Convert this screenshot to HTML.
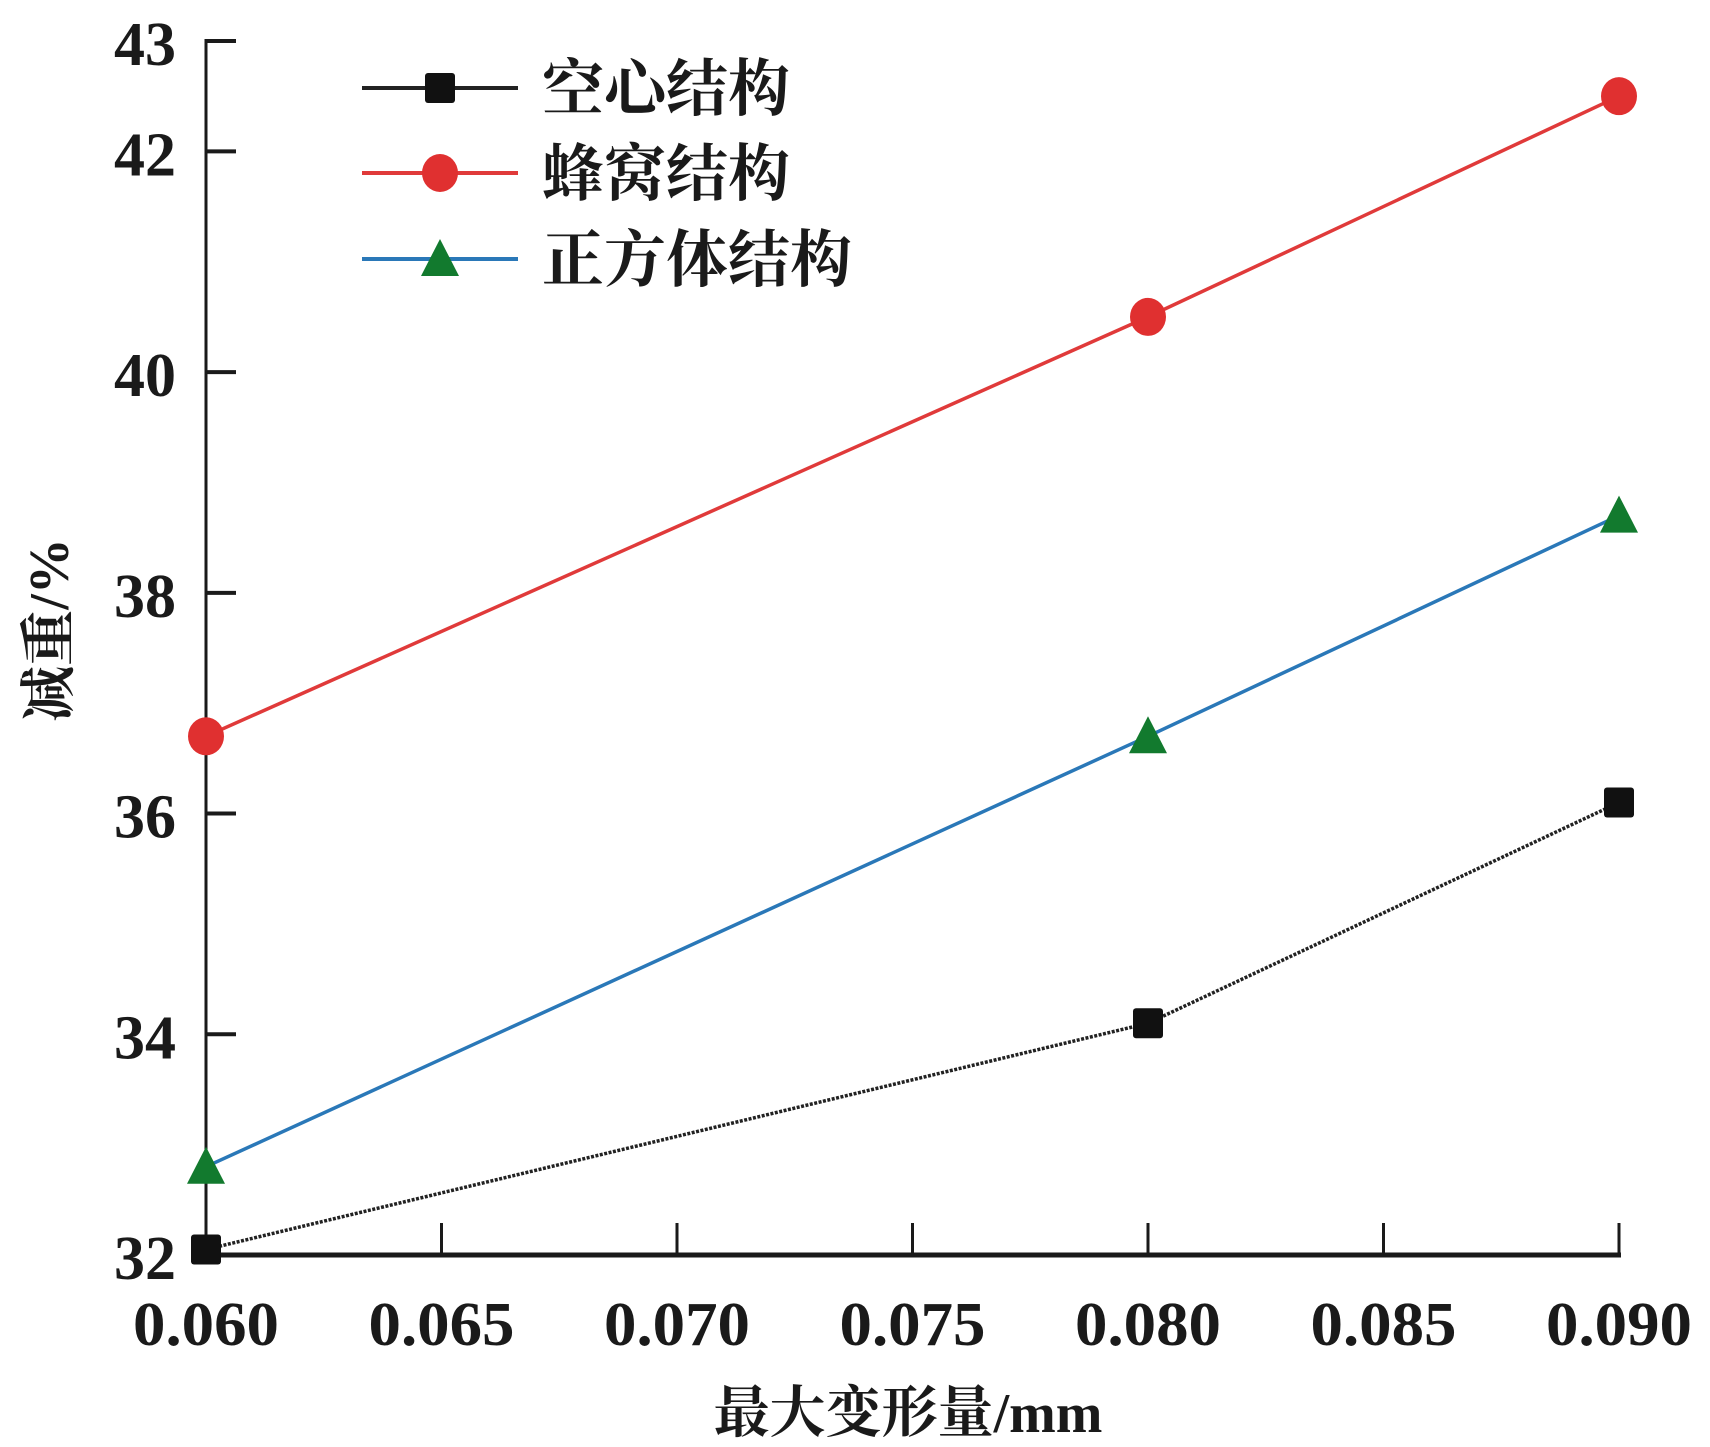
<!DOCTYPE html>
<html><head><meta charset="utf-8"><style>
html,body{margin:0;padding:0;background:#fff;}
svg{display:block;}
text{font-family:"Liberation Serif","Noto Serif CJK SC",serif;fill:#1a1a1a;}
</style></head><body>
<svg id="chart" width="1710" height="1447"></svg>
<script>
const xValues = [0.060, 0.080, 0.090];
const hollowValues = [32.05, 34.1, 36.1];
const honeycombValues = [36.7, 40.5, 42.5];
const cubeValues = [32.8, 36.7, 38.7];
const xTicks = [0.060, 0.065, 0.070, 0.075, 0.080, 0.085, 0.090];
const xTickLabels = ["0.060","0.065","0.070","0.075","0.080","0.085","0.090"];
const yTicks = [32, 34, 36, 38, 40, 42, 43];
const seriesNames = ["空心结构","蜂窝结构","正方体结构"];

const NS = "http://www.w3.org/2000/svg";
const svg = document.getElementById('chart');
const X0 = 206, X1 = 1619, Y0 = 1255, Y1 = 41;
const xs = v => X0 + (v - 0.060) / 0.030 * (X1 - X0);
const ys = v => Y0 - (v - 32) / 11 * (Y0 - Y1);
function mk(tag, attrs, parent) {
  const e = document.createElementNS(NS, tag);
  for (const k in attrs) e.setAttribute(k, attrs[k]);
  (parent || svg).appendChild(e);
  return e;
}
let ax = mk('line', {x1: X0, y1: Y1 - 2, x2: X0, y2: Y0, stroke: '#1a1a1a', 'stroke-width': 3});


ax = mk('line', {x1: X0 - 2, y1: Y0, x2: X1 + 2, y2: Y0, stroke: '#1a1a1a', 'stroke-width': 5});


yTicks.forEach(v => {
  const y = ys(v);
  if (v !== 32) {
    const t = mk('line', {x1: X0, y1: y, x2: X0 + 30, y2: y, stroke: '#1a1a1a', 'stroke-width': 4});
    
    
  }
  const l = mk('text', {x: 176, y: y + 24, 'text-anchor': 'end', 'font-size': 62, 'font-weight': 'bold'});
  l.textContent = v;
  
  
});
xTicks.forEach((v, i) => {
  const x = xs(v);
  if (i > 0) {
    const t = mk('line', {x1: x, y1: Y0, x2: x, y2: Y0 - 32, stroke: '#1a1a1a', 'stroke-width': 3});
    
    
  }
  const l = mk('text', {x: x, y: Y0 + 90, 'text-anchor': 'middle', 'font-size': 62, 'font-weight': 'bold', textLength: 146, lengthAdjust: 'spacingAndGlyphs'});
  l.textContent = xTickLabels[i];
  
  
});
let t = mk('text', {x: 908, y: 1432, 'text-anchor': 'middle', 'font-size': 56, 'font-weight': 'bold'});
t.textContent = '最大变形量/mm';


t = mk('text', {x: 0, y: 0, 'text-anchor': 'middle', 'font-size': 56, 'font-weight': 'bold', transform: 'translate(68,630) rotate(-90)'});
t.textContent = '减重/%';



function marker(kind, x, y, g) {
  let m;
  if (kind === 0) m = mk('rect', {x: x - 15, y: y - 15, width: 30, height: 30, rx: 3, fill: '#111'}, g);
  else if (kind === 1) m = mk('ellipse', {cx: x, cy: y, rx: 18, ry: 19, fill: '#e03030'}, g);
  else m = mk('polygon', {points: `${x},${y - 20} ${x + 19},${y + 17} ${x - 19},${y + 17}`, fill: '#127a2e'}, g);
  return m;
}
const seriesList = [hollowValues, honeycombValues, cubeValues];
const colors = ['#222', '#e03a3a', '#2a78b8'];
const names = ['series-hollow', 'series-honeycomb', 'series-cube'];
seriesList.forEach((vals, si) => {
  const g = mk('g', {});
  
  
  const pts = vals.map((v, i) => xs(xValues[i]) + ',' + ys(v)).join(' ');
  const pl = mk('polyline', {points: pts, fill: 'none', stroke: colors[si], 'stroke-width': 3.5}, g);
  if (si === 0) pl.setAttribute('stroke-dasharray', '3 1.5');
  
  
  vals.forEach((v, i) => {
    const m = marker(si, xs(xValues[i]), ys(v), g);
    
    
  });
});
const legRows = [88, 173, 259];
seriesNames.forEach((n, i) => {
  const g = mk('g', {});
  
  
  mk('line', {x1: 362, y1: legRows[i], x2: 518, y2: legRows[i], stroke: colors[i], 'stroke-width': 4}, g);
  marker(i, 440, legRows[i], g);
  const l = mk('text', {x: 542, y: legRows[i] + 22, 'font-size': 62, 'font-weight': 'bold'}, g);
  l.textContent = n;
});
</script>
</body></html>
